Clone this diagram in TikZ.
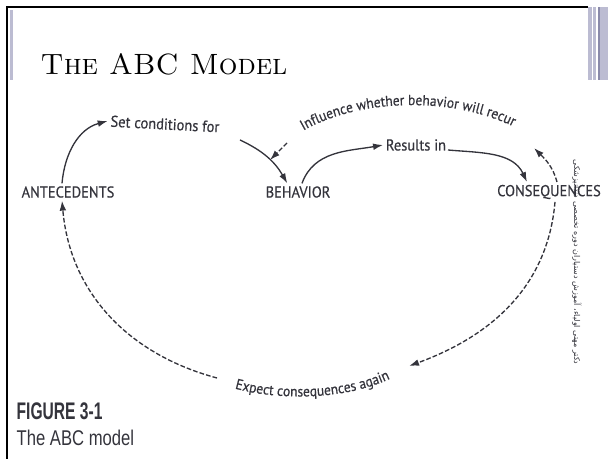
\documentclass[tikz,border=0pt]{standalone}
\usepackage{fontspec}
\usepackage{tikz}
\usetikzlibrary{arrows.meta,decorations.text}
\newfontfamily\labfont[FakeStretch=0.92,FakeBold=0.5]{PT Sans}
\newfontfamily\figfont[FakeStretch=0.65]{Liberation Sans}
\newfontfamily\capfont[FakeStretch=0.78]{Liberation Sans}
\newfontfamily\arabicfont[Script=Arabic]{DejaVu Sans}
\TeXXeTstate=1
\definecolor{inkgray}{HTML}{34343C}
\definecolor{barlav}{HTML}{BCBCD2}
\definecolor{bardark}{HTML}{8A8AAA}
\newcommand{\arcfont}{\labfont\fontsize{11}{12}\selectfont\color{inkgray}}

\tikzset{
    stage/.style={font=\labfont\fontsize{11.8}{12}\selectfont, text=inkgray, inner sep=2pt},
    arr/.style={-{Latex[length=7.5pt,width=5pt]}, line width=1pt, draw=inkgray},
    darr/.style={arr, dash pattern=on 3.5pt off 1.6pt},
}

\begin{document}
\begin{tikzpicture}[x=0.75pt,y=0.75pt]
    \useasboundingbox (0,0) rectangle (608,-459);
    % slide frame
    \fill[barlav] (10,-10) rectangle (13,-80);
    \fill[barlav] (588,-7) rectangle (592,-80);
    \fill[barlav] (593,-7) rectangle (596,-80);
    \fill[bardark] (598,-7) rectangle (600,-80);
    \fill[barlav] (600,-7) rectangle (608,-80);
    \draw[line width=1.5pt] (6.5,-459) -- (6.5,-7) -- (588,-7);
    \node[anchor=base west, font=\fontsize{22}{26}\selectfont] (title) at (36,-75) {\textsc{The ABC Model}};

    % the three stages
    \node[stage] (ante) at (68,-192) {ANTECEDENTS};
    \node[stage] (behav) at (298,-192) {BEHAVIOR};
    \node[stage] (cons) at (549,-192) {CONSEQUENCES};
    \node[stage, rotate=-3] (setc) at (165,-124) {Set conditions for};
    \node[stage] (resin) at (416,-145) {Results in};

    \coordinate (setcend) at (240,-140);
    \coordinate (resend) at (448,-150);
    \coordinate (infL) at (292,-138);
    \coordinate (infR) at (525,-133);
    \coordinate (infdash) at (287,-143);
    \coordinate (inftip) at (270,-160);
    \coordinate (infup) at (534,-148);
    \coordinate (expL) at (221,-384);
    \coordinate (expR) at (403,-372);
    \coordinate (expstart) at (217,-378);
    \coordinate (exptip) at (409,-366);

    % solid arrows
    \draw[arr] ([xshift=-4.5pt]ante.north) to[out=85,in=195] (setc.west);
    \draw[arr] (setcend) to[out=-25,in=120] ([xshift=-8pt]behav.north);
    \draw[arr] ([xshift=3pt]behav.north) to[out=70,in=190] (resin.west);
    \draw[arr] (resend) to[out=-5,in=115] ([xshift=-16.5pt]cons.north);

    % dashed arrows
    \draw[darr] ([xshift=6pt]cons.north) to[out=105,in=-45] (infup);
    \draw[darr] (infdash) -- (inftip);
    \draw[darr] ([xshift=4.5pt]cons.south) to[out=-95,in=20] (exptip);
    \draw[darr] (expstart) to[out=165,in=-85] ([xshift=-4.5pt]ante.south);
    \path[decorate, decoration={text along path, text align=center,
        text={|\arcfont|Influence whether behavior will recur}}]
        (infL) .. controls +(60,43) and +(-62,38) .. (infR);
    \path[decorate, decoration={text along path, text align=center,
        text={|\arcfont|Expect consequences again}}]
        (expL) .. controls +(41,-16) and +(-55,-33) .. (expR);

    \node[rotate=-90, font=\arabicfont\fontsize{6}{7}\selectfont, text=inkgray] (note) at (577,-262)
        {\beginR دکتر مهتی اولیاء، آموزش دستیاران دوره تخصصی دندانپزشکی\endR};

    % caption
    \node[anchor=base west, font=\figfont\bfseries\fontsize{18}{20}\selectfont, text=inkgray] (fig) at (12,-420) {FIGURE 3-1};
    \node[anchor=base west, font=\capfont\fontsize{16}{18}\selectfont, text=inkgray] (figcap) at (12,-446) {The ABC model};
\end{tikzpicture}
\end{document}
